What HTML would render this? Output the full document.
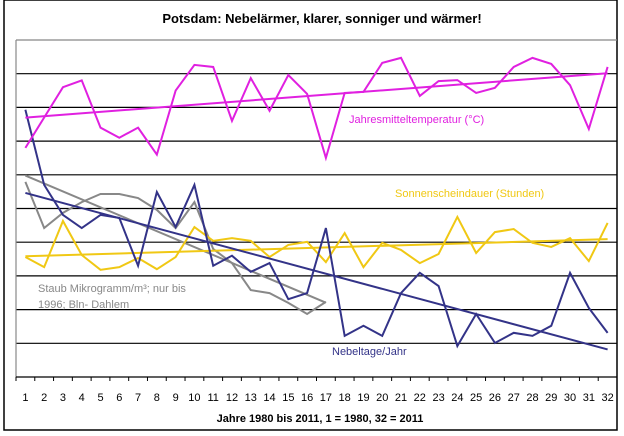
<!DOCTYPE html>
<html><head><meta charset="utf-8"><style>
body{margin:0;background:#fff;}
svg{display:block;font-family:"Liberation Sans",Arial,sans-serif;}
</style></head><body>
<svg id="c" width="624" height="436">
<rect x="4" y="0" width="613" height="430" fill="#fff" stroke="#000" stroke-width="1.5"/>
<text x="322" y="23" text-anchor="middle" font-size="13" font-weight="bold">Potsdam: Nebelärmer, klarer, sonniger und wärmer!</text>
<g id="grid"></g>
<g id="marks"></g>
<text x="349" y="123" font-size="11" fill="#e020e0">Jahresmitteltemperatur (°C)</text>
<text x="395" y="197" font-size="11" fill="#f0c814">Sonnenscheindauer (Stunden)</text>
<text x="38" y="292" font-size="11" fill="#888">Staub Mikrogramm/m³; nur bis</text>
<text x="38" y="308" font-size="11" fill="#888">1996; Bln- Dahlem</text>
<text x="332" y="355" font-size="11" fill="#333388">Nebeltage/Jahr</text>
<text x="320" y="422" text-anchor="middle" font-size="11" font-weight="bold">Jahre 1980 bis 2011, 1 = 1980, 32 = 2011</text>
</svg>
<script>
// values in chart units (0..10 grid)
const categories = [1,2,3,4,5,6,7,8,9,10,11,12,13,14,15,16,17,18,19,20,21,22,23,24,25,26,27,28,29,30,31,32];
const temperature = [6.8,7.7,8.6,8.8,7.4,7.1,7.4,6.6,8.5,9.26,9.2,7.6,8.87,7.9,8.96,8.4,6.5,8.43,8.46,9.32,9.47,8.34,8.78,8.81,8.43,8.58,9.2,9.47,9.29,8.66,7.36,9.2];
const fog = [7.93,5.7,4.81,4.42,4.81,4.72,3.3,5.49,4.45,5.7,3.3,3.6,3.12,3.38,2.31,2.49,4.42,1.22,1.52,1.22,2.49,3.09,2.7,0.92,1.87,1.01,1.31,1.22,1.52,3.09,2.05,1.31];
const sunshine = [3.56,3.26,4.63,3.62,3.18,3.26,3.53,3.2,3.56,4.45,4.04,4.12,4.04,3.56,3.92,4.01,3.41,4.27,3.26,3.98,3.77,3.38,3.65,4.75,3.68,4.3,4.39,3.98,3.86,4.12,3.44,4.57];
const dust = [5.79,4.42,4.87,5.19,5.43,5.43,5.31,4.96,4.42,5.19,3.8,3.38,2.58,2.49,2.2,1.87,2.23];
const xTicks = categories.map(String);

const svgEl=document.getElementById('c'), G=document.getElementById('grid'), M=document.getElementById('marks');
const NS='http://www.w3.org/2000/svg';
const L=16,R=617,T=40,B=377,N=32,YMAX=10;
const cw=(R-L)/N;
const xs=i=>L+(i-0.5)*cw;
const ys=v=>B-v*(B-T)/YMAX;
function el(t,a,p){const e=document.createElementNS(NS,t);for(const k in a)e.setAttribute(k,a[k]);(p||M).appendChild(e);return e;}

for(let k=1;k<YMAX;k++){
  const g=el('line',{x1:L,x2:R,y1:ys(k),y2:ys(k),stroke:'#000','stroke-width':1.2},G);
  
  
}
const topBorder=el('line',{x1:L,x2:R,y1:T,y2:T,stroke:'#888','stroke-width':1.2},G);


const ya=el('line',{x1:L,x2:L,y1:T,y2:B,stroke:'#888','stroke-width':1.2},G);


const xa=el('line',{x1:L,x2:R,y1:B,y2:B,stroke:'#000','stroke-width':1.2},G);


for(let i=0;i<=N;i++){
  const t=el('line',{x1:L+i*cw,x2:L+i*cw,y1:B,y2:B+4,stroke:'#000'},G);
  
  
}
xTicks.forEach((s,i)=>{
  const t=el('text',{x:xs(categories[i]),y:401,'text-anchor':'middle','font-size':11},G);
  t.textContent=s;
  
  
});

function series(vals,color,name){
  const pts=vals.map((v,i)=>xs(categories[i])+','+ys(v)).join(' ');
  const p=el('polyline',{points:pts,fill:'none',stroke:color,'stroke-width':2,'stroke-linejoin':'miter'});
  
  
  const n=vals.length;let sx=0,sy=0,sxx=0,sxy=0;
  vals.forEach((v,i)=>{const x=categories[i];sx+=x;sy+=v;sxx+=x*x;sxy+=x*v;});
  const b=(n*sxy-sx*sy)/(n*sxx-sx*sx),a=(sy-b*sx)/n;
  const x0=categories[0],x1=categories[n-1];
  const t=el('line',{x1:xs(x0),y1:ys(a+b*x0),x2:xs(x1),y2:ys(a+b*x1),stroke:color,'stroke-width':2});
  
  
}
series(dust,'#888888','dust');
series(sunshine,'#f0c814','sunshine');
series(fog,'#333388','fog');
series(temperature,'#e020e0','temperature');
</script>
</body></html>
